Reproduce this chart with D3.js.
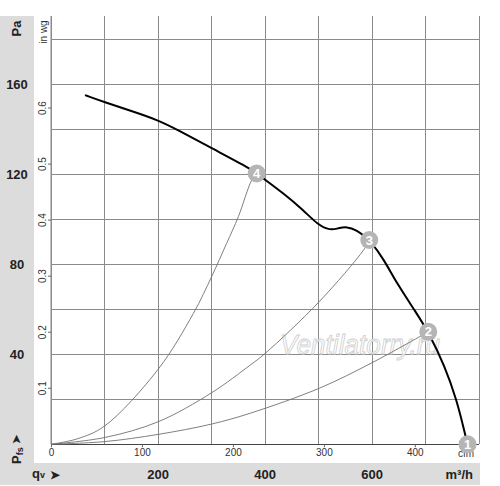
<!DOCTYPE html>
<html>
<head>
<meta charset="utf-8">
<script src="https://cdn.jsdelivr.net/npm/d3@7"></script>
<style>
body { margin: 0; background: #fff; }
svg text { font-family: 'Liberation Sans', Arial, sans-serif; }
.big { font-size: 13px; font-weight: bold; fill: #222; }
.small { font-size: 10px; fill: #333; }
</style>
</head>
<body>
<script>
// fan curve (m3/h, Pa)
var fanQ = [63.5, 100.9, 147.6, 200.4, 241, 300.1, 365.5, 384.2, 396.5, 433.9, 471.2, 499.3, 521.1, 536.6, 552.3, 571, 586.5, 594.5, 620.7, 645.7, 683, 704.7, 736, 757.7, 772, 778];
var fanP = [155.2, 152, 148.3, 144.1, 139.2, 131.6, 123.4, 120.4, 118.2, 111.6, 104.1, 97.4, 95.1, 96, 96.8, 95.2, 92.3, 90.8, 82.7, 71.6, 58.2, 50, 34.5, 19.7, 6, 0];

// system curves through the operating points
var sys4Q = [0, 50, 100, 200, 266, 300, 328, 350, 375, 384.2];
var sys4P = [0, 2.5, 8.1, 33.3, 58.2, 74.5, 89.3, 101.2, 117.5, 120.4];
var sys3Q = [0, 100, 200, 300, 372, 400, 501, 584, 594.5];
var sys3P = [0, 3, 10, 22.9, 35.2, 40.4, 63.4, 86.4, 90.8];
var sys2Q = [0, 100, 200, 300, 372, 501, 600, 704.7];
var sys2P = [0, 1.2, 4.4, 9.0, 13.8, 24.9, 36.3, 50];

// operating points
var opLabel = ['1', '2', '3', '4'];
var opQ = [778, 704.7, 594.5, 384.2];
var opP = [0, 50, 90.8, 120.4];

// tick labels
var paTicks = [40, 80, 120, 160];
var m3hTicks = [200, 400, 600];
var cfmTicks = [0, 100, 200, 300, 400];
var inwgTicks = [0.1, 0.2, 0.3, 0.4, 0.5, 0.6];

var W = 500, H = 486;
var x0 = 51, x1 = 479.3, yBot = 444.3, yTop = 16;

var svg = d3.select('body').append('svg')
    .attr('width', W)
    .attr('height', H);

var x = d3.scaleLinear().domain([0, 800]).range([x0, x1]);
var y = d3.scaleLinear().domain([0, 180]).range([yBot, 39.3]);
var xCfm = d3.scaleLinear().domain([0, 800 / 1.699]).range([x0, x1]);
var yIn = d3.scaleLinear().domain([0, 180 / 249.09]).range([yBot, 39.3]);

// grey frame strips
svg.append('rect').attr('x', 0).attr('y', yTop).attr('width', 34).attr('height', 463 - yTop).attr('fill', '#dcdcdc');
svg.append('rect').attr('x', 0).attr('y', 463).attr('width', 480).attr('height', 22).attr('fill', '#dcdcdc');

// grid
var grid = svg.append('g').attr('stroke', '#8a8a8a').attr('stroke-width', 1).attr('shape-rendering', 'crispEdges');
grid.selectAll('.v').data(d3.range(0, 801, 100)).enter().append('line')
    .attr('x1', function(d) { return x(d); })
    .attr('x2', function(d) { return x(d); })
    .attr('y1', yTop)
    .attr('y2', yBot);
grid.selectAll('.h').data(d3.range(20, 181, 20)).enter().append('line')
    .attr('x1', x0)
    .attr('x2', x1)
    .attr('y1', function(d) { return y(d); })
    .attr('y2', function(d) { return y(d); });
grid.append('line').attr('x1', x0).attr('x2', x1).attr('y1', yBot).attr('y2', yBot).attr('stroke', '#444');

// watermark
svg.append('text')
    .attr('x', 280)
    .attr('y', 354)
    .attr('textLength', 160)
    .attr('lengthAdjust', 'spacingAndGlyphs')
    .style('font-size', '28px')
    .style('font-style', 'italic')
    .attr('fill', '#fff')
    .attr('fill-opacity', 0.75)
    .attr('stroke', '#cfcfcf')
    .attr('stroke-width', 0.9)
    .text('Ventilatorry.ru');

// cfm axis
var cfmAxis = svg.append('g')
    .attr('transform', 'translate(0,' + yBot + ')')
    .call(d3.axisBottom(xCfm).tickValues(cfmTicks).tickSize(3).tickPadding(2).tickFormat(d3.format('d')));
cfmAxis.select('.domain').remove();
cfmAxis.selectAll('line').attr('stroke', '#666');
cfmAxis.selectAll('text').attr('class', 'small').style('font-family', null).attr('font-size', null).attr('fill', '#333');
svg.append('text').attr('class', 'small').attr('x', 466).attr('y', 457).attr('text-anchor', 'middle').text('cfm');

// in wg axis (rotated labels)
var inAxis = svg.append('g').attr('transform', 'translate(' + x0 + ',0)');
inAxis.append('line').attr('x1', 0).attr('x2', 0).attr('y1', yTop).attr('y2', yBot).attr('stroke', '#8a8a8a');
inAxis.selectAll('.t').data(inwgTicks).enter().append('line')
    .attr('x1', -3).attr('x2', 0)
    .attr('y1', function(d) { return yIn(d); })
    .attr('y2', function(d) { return yIn(d); })
    .attr('stroke', '#666');
inAxis.selectAll('.l').data(inwgTicks).enter().append('text')
    .attr('class', 'small')
    .attr('text-anchor', 'middle')
    .attr('transform', function(d) { return 'translate(-5,' + yIn(d) + ') rotate(-90)'; })
    .text(function(d) { return d; });
svg.append('text').attr('class', 'small')
    .attr('text-anchor', 'middle')
    .attr('transform', 'translate(46.5,32) rotate(-90)')
    .text('in wg');

// Pa labels
svg.selectAll('.pa').data(paTicks).enter().append('text')
    .attr('class', 'big')
    .attr('text-anchor', 'middle')
    .attr('x', 17)
    .attr('y', function(d) { return y(d) + 4.5; })
    .text(function(d) { return d; });
svg.append('text').attr('class', 'big')
    .attr('text-anchor', 'middle')
    .attr('transform', 'translate(20.5,28.5) rotate(-90)')
    .text('Pa');

// Pfs label
var pfs = svg.append('text').attr('class', 'big')
    .attr('transform', 'translate(20.5,464) rotate(-90)');
pfs.append('tspan').text('P');
pfs.append('tspan').style('font-size', '9px').attr('dy', 2).text('fs');
svg.append('text').attr('class', 'big')
    .attr('transform', 'translate(20,444) rotate(-90)')
    .style('font-size', '11px')
    .text('\u27A4');

// m3/h labels
svg.selectAll('.m3').data(m3hTicks).enter().append('text')
    .attr('class', 'big')
    .attr('text-anchor', 'middle')
    .attr('x', function(d) { return x(d); })
    .attr('y', 479)
    .text(function(d) { return d; });
svg.append('text').attr('class', 'big').attr('text-anchor', 'end').attr('x', 473).attr('y', 479).text('m\u00B3/h');
var qv = svg.append('text').attr('class', 'big').attr('x', 32).attr('y', 478);
qv.append('tspan').text('q');
qv.append('tspan').style('font-size', '9px').text('v');
svg.append('text').attr('class', 'big').attr('x', 50).attr('y', 478.5).style('font-size', '12px').text('\u27A4');

// curves
var thin = d3.line()
    .x(function(d) { return x(d[0]); })
    .y(function(d) { return y(d[1]); })
    .curve(d3.curveCatmullRom.alpha(0.5));
var thick = d3.line()
    .x(function(d) { return x(d[0]); })
    .y(function(d) { return y(d[1]); })
    .curve(d3.curveBasis);

[[sys4Q, sys4P], [sys3Q, sys3P], [sys2Q, sys2P]].forEach(function(s) {
    svg.append('path')
        .datum(d3.zip(s[0], s[1]))
        .attr('d', thin)
        .attr('fill', 'none')
        .attr('stroke', '#707070')
        .attr('stroke-width', 0.9);
});

svg.append('path')
    .datum(d3.zip(fanQ, fanP))
    .attr('d', thick)
    .attr('fill', 'none')
    .attr('stroke', '#000')
    .attr('stroke-width', 2);

// operating point markers
var op = svg.selectAll('.op').data(d3.range(opLabel.length)).enter().append('g')
    .attr('transform', function(i) { return 'translate(' + x(opQ[i]) + ',' + y(opP[i]) + ')'; });
op.append('circle').attr('r', 9).attr('fill', '#b5b5b5');
op.append('text')
    .attr('text-anchor', 'middle')
    .attr('y', 4.5)
    .style('font-size', '13px')
    .style('font-weight', 'bold')
    .attr('fill', '#fff')
    .text(function(i) { return opLabel[i]; });
</script>
</body>
</html>
